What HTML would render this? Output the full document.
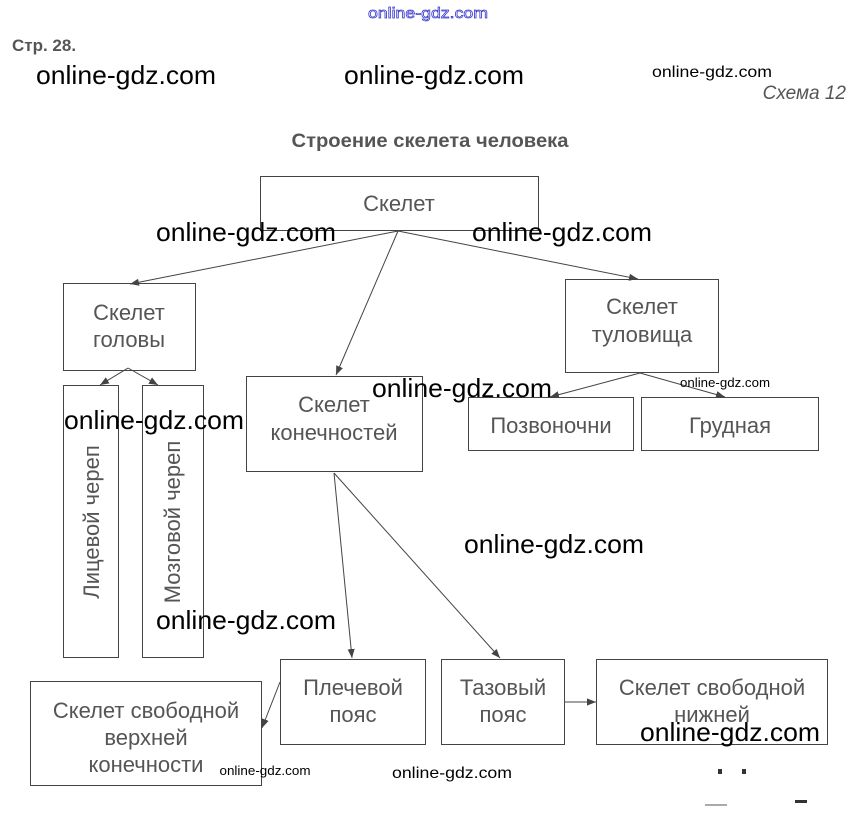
<!DOCTYPE html>
<html><head><meta charset="utf-8"><style>
body{margin:0;background:#fff;width:856px;height:820px;overflow:hidden}
svg{display:block}
.b{fill:#fff;stroke:#444;stroke-width:1}
.t{font-family:"Liberation Sans",sans-serif;font-size:22px;fill:#555;text-anchor:middle}
.w{font-family:"Liberation Sans",sans-serif;fill:#000;text-anchor:middle}
.l{stroke:#444;stroke-width:1;fill:none;marker-end:url(#a)}
</style></head><body>
<svg width="856" height="820" viewBox="0 0 856 820">
<defs><marker id="a" viewBox="0 0 10 10" refX="10" refY="5" markerWidth="9" markerHeight="9" orient="auto"><path d="M0,1 L10,5 L0,9 z" fill="#444"/></marker></defs>
<text x="428" y="18" class="w" style="font-size:15px;fill:none;stroke:#33c;stroke-width:0.7" textLength="120" lengthAdjust="spacingAndGlyphs">online-gdz.com</text>
<text x="12" y="51" style="font-family:'Liberation Sans',sans-serif;font-size:17px;font-weight:bold;fill:#555">Стр. 28.</text>
<text x="846" y="99" style="font-family:'Liberation Sans',sans-serif;font-size:19px;font-style:italic;fill:#555;text-anchor:end">Схема 12</text>
<text x="430" y="147" style="font-family:'Liberation Sans',sans-serif;font-size:19px;font-weight:bold;fill:#555;text-anchor:middle" textLength="277" lengthAdjust="spacingAndGlyphs">Строение скелета человека</text>

<rect class="b" x="260.5" y="176.5" width="278" height="54"/>
<text class="t" x="399" y="211">Скелет</text>
<rect class="b" x="63.5" y="283.5" width="132" height="87"/>
<text class="t" x="129" y="320">Скелет</text><text class="t" x="129" y="347">головы</text>
<rect class="b" x="565.5" y="279.5" width="153" height="93"/>
<text class="t" x="642" y="314">Скелет</text><text class="t" x="642" y="342">туловища</text>
<rect class="b" x="63.5" y="385.5" width="55" height="272"/>
<text class="t" transform="translate(99,522) rotate(-90)">Лицевой череп</text>
<rect class="b" x="142.5" y="385.5" width="61" height="272"/>
<text class="t" transform="translate(180,522) rotate(-90)">Мозговой череп</text>
<rect class="b" x="246.5" y="376.5" width="176" height="95"/>
<text class="t" x="334" y="412">Скелет</text><text class="t" x="334" y="440">конечностей</text>
<rect class="b" x="468.5" y="397.5" width="165" height="53"/>
<text class="t" x="551" y="433">Позвоночни</text>
<rect class="b" x="641.5" y="397.5" width="177" height="53"/>
<text class="t" x="730" y="433">Грудная</text>
<rect class="b" x="280.5" y="659.5" width="145" height="85"/>
<text class="t" x="353" y="695">Плечевой</text><text class="t" x="353" y="722">пояс</text>
<rect class="b" x="441.5" y="659.5" width="123" height="85"/>
<text class="t" x="503" y="695">Тазовый</text><text class="t" x="503" y="722">пояс</text>
<rect class="b" x="596.5" y="659.5" width="231" height="85"/>
<text class="t" x="712" y="695">Скелет свободной</text><text class="t" x="712" y="722">нижней</text>
<rect class="b" x="30.5" y="681.5" width="231" height="104"/>
<text class="t" x="146" y="718">Скелет свободной</text><text class="t" x="146" y="745">верхней</text><text class="t" x="146" y="772">конечности</text>

<path class="l" d="M398,231 L130,284"/>
<path class="l" d="M398,231 L336,375"/>
<path class="l" d="M398,231 L638,279"/>
<path class="l" d="M128,368 L100,385"/>
<path class="l" d="M128,368 L158,385"/>
<path class="l" d="M640,373 L550,397"/>
<path class="l" d="M640,373 L725,397"/>
<path class="l" d="M334,473 L352,658"/>
<path class="l" d="M334,473 L500,658"/>
<path class="l" d="M564,702 L596,702"/>
<path class="l" d="M280,682 L262,728"/>

<g class="w" style="font-size:26px">
<text x="126" y="84" textLength="180" lengthAdjust="spacingAndGlyphs">online-gdz.com</text>
<text x="434" y="84" textLength="180" lengthAdjust="spacingAndGlyphs">online-gdz.com</text>
<text x="246" y="241" textLength="180" lengthAdjust="spacingAndGlyphs">online-gdz.com</text>
<text x="562" y="241" textLength="180" lengthAdjust="spacingAndGlyphs">online-gdz.com</text>
<text x="462" y="397" textLength="180" lengthAdjust="spacingAndGlyphs">online-gdz.com</text>
<text x="154" y="429" textLength="180" lengthAdjust="spacingAndGlyphs">online-gdz.com</text>
<text x="554" y="553" textLength="180" lengthAdjust="spacingAndGlyphs">online-gdz.com</text>
<text x="246" y="629" textLength="180" lengthAdjust="spacingAndGlyphs">online-gdz.com</text>
<text x="730" y="741" textLength="180" lengthAdjust="spacingAndGlyphs">online-gdz.com</text>
</g>
<g class="w" style="font-size:16px">
<text x="712" y="77" textLength="120" lengthAdjust="spacingAndGlyphs">online-gdz.com</text>
<text x="452" y="778" textLength="120" lengthAdjust="spacingAndGlyphs">online-gdz.com</text>
</g>
<g class="w" style="font-size:13px">
<text x="725" y="387" textLength="90" lengthAdjust="spacingAndGlyphs">online-gdz.com</text>
<text x="265" y="775" textLength="91" lengthAdjust="spacingAndGlyphs">online-gdz.com</text>
</g>
<rect x="718" y="769" width="4" height="5" fill="#333"/><rect x="742" y="769" width="4" height="5" fill="#333"/>
<rect x="705" y="804" width="22" height="2" fill="#aaa"/><rect x="795" y="800" width="12" height="3" fill="#333"/>
</svg>
</body></html>
